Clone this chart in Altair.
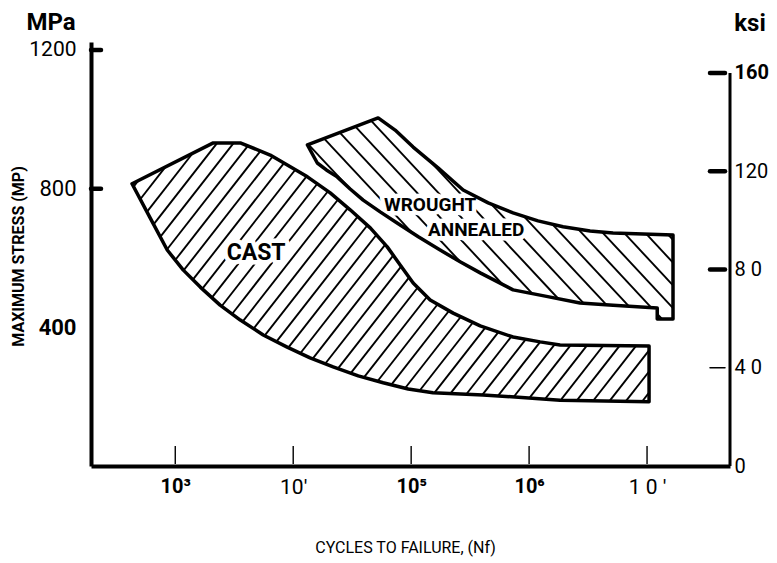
import math
import altair as alt
import pandas as pd

# ---------------- data ----------------
x_ticks = [1000, 10000, 100000, 1000000, 10000000]
x_tick_labels = ["10³", "10′", "10⁵", "10⁶", "1 0 ′"]
x_bold_ticks = [1000, 100000, 1000000]

mpa_ticks = [400, 800, 1200]
mpa_tick_labels = ["400", "800", "1200"]
mpa_tick_marks = [800, 1200]

ksi_ticks = [0, 40, 80, 120, 160]
ksi_tick_labels = ["0", "4 0", "8 0", "120", "160"]
ksi_tick_marks = [40, 80, 120, 160]

# CAST band (cycles, MPa)
cast_upper_n = [430, 2100, 3560, 6380, 13200, 20600, 30400, 45000, 62700, 80700, 104000,
                145000, 227000, 385000, 731000, 1240000, 1830000, 10400000]
cast_upper_s = [814, 932, 932, 897, 834, 788, 739, 687, 632, 580, 528,
                479, 441, 404, 372, 358, 349, 346]
cast_lower_n = [10400000, 1830000, 407000, 153000, 94400, 57900, 35600, 21800, 13900, 8890,
                5570, 3560, 2400, 1630, 1170, 855, 614]
cast_lower_s = [185, 190, 205, 211, 222, 240, 260, 286, 312, 343,
                378, 421, 464, 516, 565, 623, 715]

# WROUGHT ANNEALED band (cycles, MPa)
wrought_upper_n = [13200, 52500, 73100, 104000, 169000, 276000, 450000, 731000, 1190000,
                   1940000, 3290000, 5150000, 16600000]
wrought_upper_s = [926, 1004, 969, 920, 860, 796, 759, 730, 707, 690, 678, 672, 666]
wrought_lower_n = [16600000, 12200000, 12200000, 5150000, 2700000, 1370000, 731000, 385000,
                   260000, 176000, 115000, 76000, 54600, 39200, 30400, 23600, 19100, 16000]
wrought_lower_s = [424, 424, 456, 464, 470, 490, 508, 557, 589, 623, 661, 701, 733, 767,
                   799, 834, 854, 874]

labels_text = ["CAST", "WROUGHT", "ANNEALED"]
labels_n = [4850, 145000, 356000]
labels_s = [614, 753, 681]
labels_size = [23, 19, 19]

# ---------------- layout ----------------
W, H = 639, 424
X_DOMAIN = [193, 50500000]
MPA_DOMAIN = [0, 1223]
KSI_DOMAIN = [0, 172.6]

FONT = "Roboto, 'DejaVu Sans', sans-serif"

PXD = W / (math.log10(X_DOMAIN[1]) - math.log10(X_DOMAIN[0]))
PXM = H / (MPA_DOMAIN[1] - MPA_DOMAIN[0])


def polygon(ns, ss):
    return list(zip(ns, ss))


cast_poly = polygon(cast_upper_n + cast_lower_n, cast_upper_s + cast_lower_s)
wrought_poly = polygon(wrought_upper_n + wrought_lower_n, wrought_upper_s + wrought_lower_s)


def hatch(poly, angle_deg, spacing, phase):
    pts = [(math.log10(n) * PXD, s * PXM) for n, s in poly]
    th = math.radians(angle_deg)
    d = (math.cos(th), math.sin(th))
    nrm = (-d[1], d[0])
    offs = [p[0] * nrm[0] + p[1] * nrm[1] for p in pts]
    rows = []
    k = math.ceil((min(offs) - phase) / spacing)
    m = len(pts)
    while phase + k * spacing < max(offs):
        c = phase + k * spacing
        hits = []
        for i in range(m):
            a, b = pts[i], pts[(i + 1) % m]
            oa, ob = offs[i] - c, offs[(i + 1) % m] - c
            if (oa < 0) != (ob < 0):
                f = oa / (oa - ob)
                x = a[0] + f * (b[0] - a[0])
                y = a[1] + f * (b[1] - a[1])
                hits.append((x * d[0] + y * d[1], x, y))
        hits.sort()
        for j in range(0, len(hits) - 1, 2):
            _, x1, y1 = hits[j]
            _, x2, y2 = hits[j + 1]
            rows.append({"n1": 10 ** (x1 / PXD), "s1": y1 / PXM,
                         "n2": 10 ** (x2 / PXD), "s2": y2 / PXM})
        k += 1
    return rows


hatch_df = pd.DataFrame(hatch(cast_poly, 52, 13.0, 4.0) + hatch(wrought_poly, -47, 15.5, 2.0))

outline_rows = []
for name, poly in [("cast", cast_poly), ("wrought", wrought_poly)]:
    for i, (n, s) in enumerate(poly + [poly[0]]):
        outline_rows.append({"band": name, "i": i, "n": n, "s": s})
outline_df = pd.DataFrame(outline_rows)

label_df = pd.DataFrame({"t": labels_text, "n": labels_n, "s": labels_s, "fs": labels_size})


def label_expr(vals, labs):
    expr = "''"
    for v, l in reversed(list(zip(vals, labs))):
        expr = f"datum.value == {v} ? '{l}' : ({expr})"
    return expr


x_bold_test = " || ".join(f"datum.value == {v}" for v in x_bold_ticks)

xscale = alt.Scale(type="log", domain=X_DOMAIN, nice=False, zero=False)
yscale = alt.Scale(domain=MPA_DOMAIN, nice=False, zero=False)
kscale = alt.Scale(domain=KSI_DOMAIN, nice=False, zero=False)

xaxis = alt.Axis(
    values=x_ticks, labelExpr=label_expr(x_ticks, x_tick_labels), ticks=False, grid=False,
    domainColor="black", domainWidth=4, labelColor="black", labelFont=FONT,
    labelFontWeight={"condition": {"test": x_bold_test, "value": "bold"}, "value": "normal"},
    labelFontSize={"condition": {"test": x_bold_test, "value": 20}, "value": 21},
    labelPadding=10, labelFlush=False,
    title="CYCLES TO FAILURE, (Nf)", titleFont=FONT, titleFontSize=16, titleFontWeight="normal",
    titleColor="black", titleY=81, titleX=314, titleBaseline="middle", titleAlign="center",
)

yaxis = alt.Axis(
    values=mpa_ticks, labelExpr=label_expr(mpa_ticks, mpa_tick_labels), ticks=False,
    grid=False, domainColor="black", domainWidth=4, labelColor="black", labelFont=FONT,
    labelFontWeight={"condition": {"test": "datum.value == 400", "value": "bold"}, "value": "normal"},
    labelFontSize={"condition": {"test": "datum.value == 1200", "value": 21}, "value": 22},
    labelPadding=15, labelFlush=False,
    title="MAXIMUM STRESS  (MP)", titleFont=FONT, titleFontSize=16, titleFontWeight="bold",
    titleColor="black", titleAngle=270, titleX=-73, titleY=214, titleAlign="center",
    titleBaseline="middle",
)

kaxis = alt.Axis(
    orient="right", values=ksi_ticks, labelExpr=label_expr(ksi_ticks, ksi_tick_labels),
    ticks=False, grid=False, domain=False, labelColor="black", labelFont=FONT,
    labelFontWeight={"condition": {"test": "datum.value == 160", "value": "bold"}, "value": "normal"},
    labelFontSize=20, labelPadding=4, labelFlush=False, title=None,
)


def X(f):
    return alt.X(f, type="quantitative", scale=xscale, axis=xaxis)


def Y(f):
    return alt.Y(f, type="quantitative", scale=yscale, axis=yaxis)


hatch_layer = alt.Chart(hatch_df).mark_rule(color="black", strokeWidth=1.9).encode(
    x=X("n1"), x2="n2", y=Y("s1"), y2="s2")

halo_layer = alt.Chart(label_df).mark_text(
    font=FONT, fontWeight="bold", stroke="white", strokeWidth=9, fill="white",
    strokeJoin="round").encode(x=X("n"), y=Y("s"), text="t",
                               size=alt.Size("fs:Q", scale=None, legend=None))

outline_layer = alt.Chart(outline_df).mark_line(
    color="black", strokeWidth=3.5, strokeJoin="round", strokeCap="round").encode(
    x=X("n"), y=Y("s"), detail="band:N", order="i:Q")

text_layer = alt.Chart(label_df).mark_text(font=FONT, fontWeight="bold", color="black").encode(
    x=X("n"), y=Y("s"), text="t", size=alt.Size("fs:Q", scale=None, legend=None))

xtick_layer = alt.Chart(pd.DataFrame({"n": x_ticks})).mark_rule(color="black").encode(
    x=X("n"), y=alt.value(H - 20), y2=alt.value(H - 2),
    strokeWidth=alt.condition(x_bold_test, alt.value(2.5), alt.value(1.4)))

ytick_layer = alt.Chart(pd.DataFrame({"s": mpa_tick_marks})).mark_rule(
    color="black", strokeWidth=4.5, strokeCap="round").encode(
    y=Y("s"), x=alt.value(0), x2=alt.value(10))

mpa_head = alt.Chart(pd.DataFrame({"t": ["MPa"]})).mark_text(
    font=FONT, fontWeight="bold", fontSize=24, color="black").encode(
    x=alt.value(-40), y=alt.value(-19), text="t")

ksi_head = alt.Chart(pd.DataFrame({"t": ["ksi"]})).mark_text(
    font=FONT, fontWeight="bold", fontSize=24, color="black").encode(
    x=alt.value(W + 20), y=alt.value(-18), text="t")

mpa_part = alt.layer(hatch_layer, halo_layer, outline_layer, text_layer,
                     xtick_layer, ytick_layer, mpa_head, ksi_head)

kline = alt.Chart(pd.DataFrame({"k0": [ksi_ticks[0]], "k1": [ksi_ticks[-1]]})).mark_rule(
    color="black", strokeWidth=3).encode(
    y=alt.Y("k0:Q", scale=kscale, axis=kaxis), y2="k1:Q", x=alt.value(W))

ktick = alt.Chart(pd.DataFrame({"k": ksi_tick_marks})).mark_rule(
    color="black", strokeCap="round").encode(
    y=alt.Y("k:Q", scale=kscale, axis=kaxis), x=alt.value(W - 20), x2=alt.value(W - 5),
    strokeWidth=alt.condition("datum.k == 40", alt.value(1.5), alt.value(4.5)))

ksi_part = alt.layer(kline, ktick)

chart = alt.layer(mpa_part, ksi_part).resolve_scale(y="independent").properties(
    width=W, height=H,
    padding={"left": 83, "top": 34, "right": 39, "bottom": 92},
    autosize=alt.AutoSizeParams(type="none"),
    background="white",
).configure_view(stroke=None)

chart.save("out.html", embed_options={"renderer": "svg", "actions": False})
